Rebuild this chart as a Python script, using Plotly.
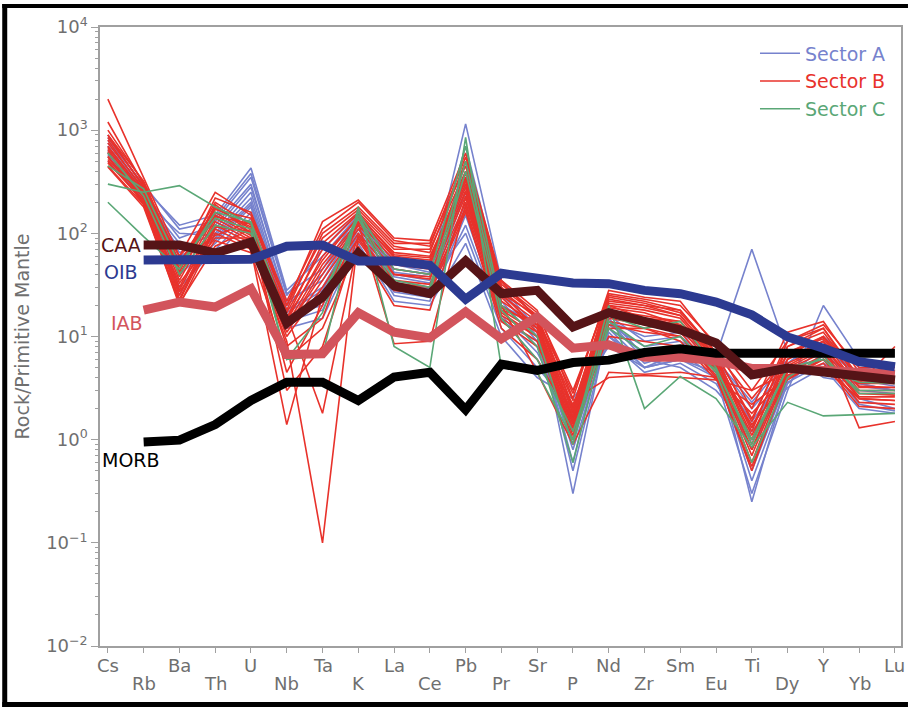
import math
import plotly.graph_objects as go

elements = ["Cs", "Rb", "Ba", "Th", "U", "Nb", "Ta", "K", "La", "Ce", "Pb", "Pr",
            "Sr", "P", "Nd", "Zr", "Sm", "Eu", "Ti", "Dy", "Y", "Yb", "Lu"]

# Sector A samples (normalised to primitive mantle)
sector_a = [
    [900, 280, 120, 150, 430, 28, 60, 150, 45, 40, 1150, 35, 15, 0.3, 14, 6, 8, 6, 0.25, 4, 8, 4, 3.5],
    [800, 300, 110, 130, 350, 25, 70, 160, 50, 42, 700, 30, 12, 0.5, 12, 5.5, 7, 5, 0.4, 3.5, 7, 3.5, 3],
    [700, 250, 90, 120, 300, 20, 40, 140, 40, 35, 500, 25, 10, 0.8, 11, 5, 6, 4.5, 0.5, 3.8, 6.5, 3.8, 3.3],
    [650, 230, 70, 100, 250, 18, 30, 120, 35, 30, 350, 22, 9, 1.0, 10, 5, 6, 4, 0.8, 4.2, 6, 3.3, 3],
    [600, 200, 60, 90, 200, 15, 25, 110, 30, 28, 250, 18, 8, 1.2, 9, 4.5, 5.5, 3.5, 1.0, 3.6, 5.5, 3, 2.8],
    [550, 260, 40, 80, 180, 16, 20, 100, 28, 25, 200, 16, 7, 1.5, 10, 6, 5, 3, 1.2, 3.2, 5, 2.5, 2],
    [750, 270, 30, 70, 160, 14, 18, 90, 25, 22, 150, 15, 6, 1.8, 12, 7, 7, 5, 1.5, 4.5, 5, 2, 1.8],
    [850, 290, 25, 110, 280, 22, 35, 130, 38, 33, 100, 12, 5, 2.0, 13, 8, 9, 6, 2.0, 5, 6, 2.2, 1.9],
    [500, 220, 80, 60, 140, 12, 15, 80, 22, 20, 80, 10, 4, 2.5, 8, 5, 7, 6.5, 70, 7, 4, 3.5, 3],
    [620, 240, 50, 140, 380, 26, 45, 150, 42, 38, 400, 28, 11, 0.6, 15, 6.5, 7, 4, 0.3, 3, 20, 6, 5],
    [580, 210, 100, 95, 220, 17, 28, 120, 33, 29, 300, 20, 13, 0.9, 16, 9, 10, 5.5, 1.3, 5.5, 10, 5, 4.5],
    [700, 260, 65, 85, 190, 13, 22, 100, 27, 24, 120, 14, 9, 1.6, 14, 10, 11, 6, 2.3, 6, 9, 4, 3.5],
]

# Sector B samples
sector_b = [
    [2000, 350, 60, 250, 150, 20, 130, 210, 90, 85, 600, 35, 18, 2.5, 28, 24, 22, 8, 2, 11, 14, 4.5, 4.5],
    [1200, 300, 50, 200, 120, 18, 100, 180, 80, 80, 450, 30, 16, 2.0, 25, 22, 18, 7, 1.5, 9, 12, 4, 4],
    [900, 280, 45, 180, 110, 15, 80, 160, 70, 70, 400, 28, 15, 1.8, 22, 20, 16, 6.5, 1.2, 8, 11, 3.8, 3.8],
    [800, 260, 40, 160, 100, 14, 60, 140, 60, 55, 350, 25, 14, 1.6, 20, 18, 15, 6, 1.0, 7, 10, 3.5, 3.5],
    [700, 250, 35, 150, 95, 13, 50, 130, 55, 50, 300, 22, 13, 1.5, 18, 16, 14, 5.5, 0.9, 6, 9, 3.2, 3.2],
    [650, 240, 30, 140, 90, 12, 40, 120, 50, 45, 280, 20, 12, 1.4, 17, 15, 13, 5, 0.8, 5.5, 8, 3, 3],
    [600, 230, 28, 130, 85, 11, 35, 110, 45, 40, 250, 18, 11, 1.3, 16, 14, 12, 4.8, 0.7, 5, 7.5, 2.8, 2.8],
    [550, 220, 25, 120, 80, 10, 30, 100, 40, 36, 230, 17, 10, 1.2, 15, 13, 11, 4.5, 0.6, 4.8, 7, 2.6, 2.6],
    [500, 200, 22, 110, 75, 9, 0.1, 95, 35, 32, 200, 16, 10, 1.1, 14, 12, 10, 4.2, 0.5, 4.5, 6.5, 2.5, 2.4],
    [450, 190, 20, 100, 70, 1.4, 25, 90, 30, 28, 180, 15, 9, 1.0, 13, 11, 10, 4, 1.8, 4.2, 6, 2.3, 2.2],
    [480, 210, 55, 95, 130, 16, 1.8, 85, 28, 26, 160, 14, 8, 2.2, 12, 12, 9, 3.8, 2.2, 4, 5.5, 2.1, 2],
    [750, 270, 48, 170, 140, 20, 90, 170, 75, 65, 500, 32, 17, 3.0, 24, 21, 17, 7, 2.5, 6.5, 10, 4.2, 4],
    [850, 290, 42, 220, 160, 22, 110, 200, 85, 75, 550, 34, 15, 2.8, 26, 23, 20, 8.5, 3, 9, 13, 5, 5],
    [1000, 310, 38, 190, 100, 4.5, 20, 150, 65, 60, 320, 26, 12, 1.7, 20, 15, 14, 6, 1.1, 6, 9, 1.3, 1.5],
    [620, 200, 33, 90, 90, 8, 15, 130, 40, 38, 260, 20, 4.5, 0.9, 4.5, 4.3, 4.5, 4, 0.55, 4, 6, 2.8, 2.7],
    [560, 190, 27, 85, 65, 6, 12, 75, 20, 18, 220, 18, 14, 2.4, 4, 4.2, 4, 3.8, 3, 4.5, 5, 2.5, 2.4],
    [520, 230, 23, 115, 105, 12, 45, 125, 8.5, 9, 190, 24, 11, 1.3, 19, 17, 13, 5.2, 0.8, 5.2, 8, 3.3, 3.2],
    [680, 250, 60, 145, 125, 15, 55, 145, 58, 52, 330, 19, 13, 1.9, 21, 19, 16, 6.2, 1.3, 7, 9.5, 3.6, 3.6],
    [900, 320, 52, 175, 115, 17, 70, 155, 62, 58, 380, 26, 16, 2.1, 23, 20, 18, 6.8, 1.6, 8, 12, 3.7, 3.8],
    [440, 180, 21, 75, 110, 3, 8, 95, 33, 30, 170, 12, 6, 1.5, 10, 9, 8, 5, 1.4, 3.8, 6, 3.5, 8],
]

# Sector C samples
sector_c = [
    [300, 250, 290, 180, 125, 6, 6.5, 180, 8, 5, 850, 5, 4.5, 1.0, 20, 2, 4.1, 2.5, 0.85, 2.3, 1.7, 1.75, 1.8],
    [200, 93, 45, 160, 130, 15, 22, 160, 45, 40, 700, 20, 10, 0.9, 16, 12, 14, 5, 0.9, 5, 6, 3, 3],
    [450, 270, 50, 140, 110, 6, 17, 150, 35, 30, 500, 18, 8, 0.6, 14, 8, 10, 4.5, 0.6, 4, 6.5, 2.8, 2.8],
    [600, 230, 40, 120, 100, 14, 25, 140, 30, 27, 400, 15, 6, 1.2, 12, 7, 8, 4.8, 1.0, 5, 5, 3.6, 3.5],
]

# Reference compositions (no Cs value)
caa = [None, 77, 77, 64.5, 82, 13.5, 24, 64.5, 31, 26, 54, 26, 28, 12.4, 17, 14, 11.6, 8.65, 4.24, 4.95, 4.53, 4.05, 3.79]
oib = [None, 55, 55, 55, 56, 75, 77, 54, 54, 49, 23, 41, 37, 33, 32.5, 28, 26, 21.6, 16.2, 9.9, 7.7, 5.7, 5.1]
iab = [None, 18, 21.6, 19.3, 29, 6.7, 6.8, 17, 11, 9.7, 17.3, 9.5, 15.5, 7.7, 8.3, 6.3, 6.3, 5.8, 4.9, 4.9, 4.7, 4.5, 4.3]
morb = [None, 0.95, 0.99, 1.4, 2.4, 3.6, 3.6, 2.4, 4.05, 4.5, 1.95, 5.4, 4.7, 5.6, 5.9, 7.0, 7.6, 6.9, 6.9, 6.9, 6.9, 6.9, 6.9]

y_tickvals = [0.01, 0.1, 1, 10, 100, 1000, 10000]
y_ticktext = ["10<sup>−2</sup>", "10<sup>−1</sup>", "10<sup>0</sup>", "10<sup>1</sup>",
              "10<sup>2</sup>", "10<sup>3</sup>", "10<sup>4</sup>"]

col_a = "#7682CD"
col_b = "#E8322B"
col_c = "#5AA776"
col_caa = "#561417"
col_oib = "#2C3A91"
col_iab = "#D2545C"
col_morb = "#000000"
grey = "#6f6f6f"
axis_grey = "#a0a0a0"
font_family = "DejaVu Sans"

x_idx = list(range(len(elements)))
fig = go.Figure()

for name, col, group in [("Sector A", col_a, sector_a), ("Sector B", col_b, sector_b), ("Sector C", col_c, sector_c)]:
    for i, vals in enumerate(group):
        fig.add_trace(go.Scatter(
            x=x_idx, y=vals, mode="lines",
            line=dict(color=col, width=1.6),
            name=f"<span style='color:{col}'>{name}</span>",
            legendgroup=name, showlegend=(i == 0), hoverinfo="skip"))

for vals, col in [(iab, col_iab), (morb, col_morb), (caa, col_caa), (oib, col_oib)]:
    fig.add_trace(go.Scatter(x=x_idx, y=vals, mode="lines",
                             line=dict(color=col, width=9),
                             showlegend=False, hoverinfo="skip"))

annotations = []
# element labels in two staggered rows
for i, el in enumerate(elements):
    annotations.append(dict(
        x=i, xref="x", y=-0.0315 if i % 2 == 0 else -0.0600, yref="paper",
        text=el, showarrow=False, xanchor="center", yanchor="middle",
        font=dict(size=18, color=grey, family=font_family)))

# reference line labels
for txt, vals, col, xs, ys in [
    ("CAA", caa, col_caa, -1, 0),
    ("OIB", oib, col_oib, -4, -12),
    ("IAB", iab, col_iab, 1, -13),
    ("MORB", morb, col_morb, 18, -18),
]:
    annotations.append(dict(
        x=1, xref="x", y=math.log10(vals[1]), yref="y",
        text=txt, showarrow=False, xanchor="right", yanchor="middle",
        xshift=xs, yshift=ys,
        font=dict(size=19, color=col, family=font_family)))

L, R, T, B = 100, 7, 27, 61
W, H = 910, 707
pw, ph = W - L - R, H - T - B

def px(xp):
    return (xp - L) / pw

def py(yp):
    return (H - B - yp) / ph

shapes = [
    dict(type="rect", xref="paper", yref="paper", x0=px(2), x1=px(7), y0=py(707), y1=py(4),
         fillcolor="black", line=dict(width=0), layer="above"),
    dict(type="rect", xref="paper", yref="paper", x0=px(2), x1=px(910), y0=py(8), y1=py(4),
         fillcolor="black", line=dict(width=0), layer="above"),
    dict(type="rect", xref="paper", yref="paper", x0=px(2), x1=px(910), y0=py(707), y1=py(702),
         fillcolor="black", line=dict(width=0), layer="above"),
]

fig.update_layout(
    width=W, height=H, autosize=False,
    margin=dict(l=L, r=R, t=T, b=B, pad=0),
    paper_bgcolor="white", plot_bgcolor="white",
    font=dict(family=font_family, color=grey),
    showlegend=True,
    legend=dict(x=0.9875, xanchor="right", y=0.988, yanchor="top",
                bgcolor="rgba(255,255,255,0.85)", borderwidth=0,
                font=dict(size=19, family=font_family),
                itemwidth=40, tracegroupgap=0),
    annotations=annotations,
    shapes=shapes,
)

fig.update_xaxes(
    range=[-0.22, 22.17], tickmode="array", tickvals=x_idx,
    showticklabels=False, ticks="outside", ticklen=5, tickwidth=1.2, tickcolor=axis_grey,
    showline=True, linecolor=axis_grey, linewidth=1.5, mirror=True,
    showgrid=False, zeroline=False)

fig.update_yaxes(
    type="log", range=[-2, 4], tickmode="array", tickvals=y_tickvals, ticktext=y_ticktext,
    ticks="outside", ticklen=7, tickwidth=1.2, tickcolor=axis_grey,
    minor=dict(ticks="outside", ticklen=3, tickcolor=axis_grey, dtick="D1", showgrid=False),
    tickfont=dict(size=18, color=grey, family=font_family),
    title=dict(text="Rock/Primitive Mantle", font=dict(size=19, color=grey, family=font_family), standoff=12),
    showline=True, linecolor=axis_grey, linewidth=1.5, mirror=True,
    showgrid=False, zeroline=False)

fig.write_html("out.html", config={"displayModeBar": False},
               post_script="document.body.style.margin='0px';")
